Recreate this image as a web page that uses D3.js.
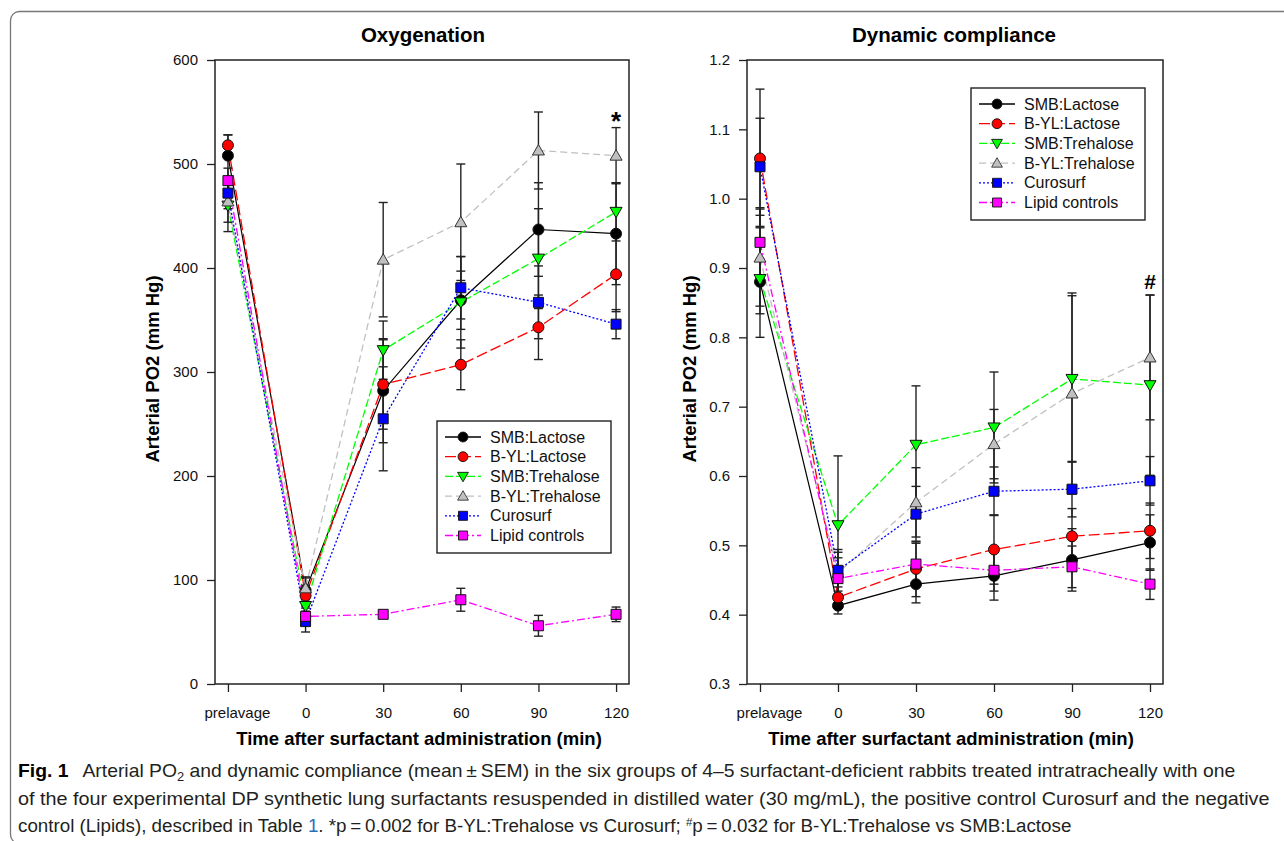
<!DOCTYPE html>
<html>
<head>
<meta charset="utf-8">
<script src="https://cdn.jsdelivr.net/npm/d3@7"></script>
<style>
  body { margin: 0; background: #fff; }
  svg text { font-family: "Liberation Sans", Arial, sans-serif; }
</style>
</head>
<body>
<script>
// Groups and time points
const groups = ["SMB:Lactose", "B-YL:Lactose", "SMB:Trehalose", "B-YL:Trehalose", "Curosurf", "Lipid controls"];
const timeLabels = ["prelavage", "0", "30", "60", "90", "120"];
const timeValues = [-30, 0, 30, 60, 90, 120];

// Oxygenation (PO2, mm Hg), means
const po2SmbLactose   = [508, 90, 282, 369, 437, 433];
const po2BylLactose   = [518, 85, 288, 307, 343, 394];
const po2SmbTrehalose = [460, 75, 321, 367, 409, 454];
const po2BylTrehalose = [464, 92, 408, 444, 513, 508];
const po2Curosurf     = [472, 60, 255, 381, 367, 346];
const po2Lipid        = [484, 65, 67, 81, 56, 67];
// Oxygenation SEM
const po2SemSmbLactose   = [20, 12, 50, 28, 45, 49];
const po2SemBylLactose   = [10, 10, 43, 24, 31, 36];
const po2SemSmbTrehalose = [25, 15, 28, 44, 48, 28];
const po2SemBylTrehalose = [20, 11, 55, 56, 37, 27];
const po2SemCurosurf     = [15, 10, 50, 30, 35, 14];
const po2SemLipid        = [12, 8, 3, 11, 10, 7];

// Dynamic compliance, means
const cmpSmbLactose   = [0.880, 0.413, 0.444, 0.456, 0.479, 0.504];
const cmpBylLactose   = [1.058, 0.425, 0.466, 0.494, 0.513, 0.521];
const cmpSmbTrehalose = [0.884, 0.529, 0.645, 0.670, 0.740, 0.731];
const cmpBylTrehalose = [0.915, 0.460, 0.562, 0.646, 0.719, 0.771];
const cmpCurosurf     = [1.046, 0.464, 0.545, 0.578, 0.581, 0.593];
const cmpLipid        = [0.937, 0.452, 0.473, 0.464, 0.469, 0.444];
// Dynamic compliance SEM
const cmpSemSmbLactose   = [0.08, 0.012, 0.027, 0.035, 0.045, 0.04];
const cmpSemBylLactose   = [0.10, 0.015, 0.04, 0.05, 0.04, 0.04];
const cmpSemSmbTrehalose = [0.05, 0.10, 0.085, 0.08, 0.12, 0.13];
const cmpSemBylTrehalose = [0.07, 0.03, 0.05, 0.05, 0.145, 0.09];
const cmpSemCurosurf     = [0.07, 0.03, 0.04, 0.035, 0.04, 0.035];
const cmpSemLipid        = [0.05, 0.03, 0.03, 0.03, 0.03, 0.022];

const yTicksPo2 = [0, 100, 200, 300, 400, 500, 600];
const yTicksCmp = [0.3, 0.4, 0.5, 0.6, 0.7, 0.8, 0.9, 1.0, 1.1, 1.2];

// Styles per group
const colors  = ["#000000", "#ff0000", "#00ff00", "#c0c0c0", "#0000ff", "#ff00ff"];
const dashes  = [null, "11,4", "8,3", "7,4", "2,2", "8,3,2,3"];
const markers = ["circle", "circle", "triDown", "triUp", "square", "square"];

const svg = d3.select("body").append("svg")
    .attr("width", 1284)
    .attr("height", 841);

// Outer rounded frame
svg.append("rect")
    .attr("x", 10.5).attr("y", 11.5)
    .attr("width", 1300).attr("height", 832)
    .attr("rx", 9)
    .attr("fill", "none")
    .attr("stroke", "#777")
    .attr("stroke-width", 1.3);

function markerPath(type) {
    if (type === "circle") return d3.symbol(d3.symbolCircle, 95)();
    if (type === "square") return "M-5,-5H5V5H-5Z";
    if (type === "triUp") return "M0,-6L6,4.5H-6Z";
    return "M0,6L6,-4.5H-6Z";
}

function drawPanel(p) {
    const x = d3.scaleLinear().domain([-35, 125]).range([p.left, p.right]);
    const y = d3.scaleLinear().domain(p.yDomain).range([p.bottom, p.top]);
    const g = svg.append("g");

    // Title
    g.append("text")
        .attr("x", p.titleX).attr("y", 42)
        .attr("text-anchor", "middle")
        .attr("font-size", 20.5).attr("font-weight", "bold")
        .text(p.title);

    // Axes
    const yAxis = g.append("g")
        .attr("transform", "translate(" + p.left + ",0)")
        .call(d3.axisLeft(y).tickValues(p.yTicks).tickSize(8).tickPadding(9).tickFormat(p.yFormat));
    yAxis.select(".domain").remove();
    yAxis.selectAll("line").attr("stroke", "#222").attr("stroke-width", 1.3);
    yAxis.selectAll("text").attr("font-size", 15).attr("fill", "#111")
        .attr("font-family", "Liberation Sans, Arial, sans-serif");

    const xAxis = g.append("g")
        .attr("transform", "translate(0," + p.bottom + ")")
        .call(d3.axisBottom(x).tickValues(timeValues).tickSize(8).tickPadding(15)
            .tickFormat((d, i) => timeLabels[i]));
    xAxis.select(".domain").remove();
    xAxis.selectAll("line").attr("stroke", "#222").attr("stroke-width", 1.3);
    xAxis.selectAll("text").attr("font-size", 15).attr("fill", "#111")
        .attr("font-family", "Liberation Sans, Arial, sans-serif")
        .attr("dx", (d, i) => i === 0 ? 9 : 0);

    // Frame
    g.append("rect")
        .attr("x", p.left).attr("y", p.top)
        .attr("width", p.right - p.left).attr("height", p.bottom - p.top)
        .attr("fill", "none").attr("stroke", "#222").attr("stroke-width", 1.5);

    // Axis titles
    g.append("text")
        .attr("transform", "translate(" + p.yTitleX + "," + ((p.top + p.bottom) / 2 - 3) + ") rotate(-90)")
        .attr("text-anchor", "middle")
        .attr("font-size", 18.5).attr("font-weight", "bold")
        .text("Arterial PO2 (mm Hg)");
    g.append("text")
        .attr("x", p.xTitleX).attr("y", 745)
        .attr("text-anchor", "middle")
        .attr("font-size", 18.5).attr("font-weight", "bold")
        .text("Time after surfactant administration (min)");

    const line = d3.line().x((d, i) => x(timeValues[i])).y(d => y(d));

    // Connecting lines
    p.series.forEach((s, k) => {
        g.append("path")
            .attr("d", line(s))
            .attr("fill", "none")
            .attr("stroke", colors[k])
            .attr("stroke-width", k === 0 ? 1.2 : 1.3)
            .attr("stroke-dasharray", dashes[k]);
    });

    // Error bars
    p.series.forEach((s, k) => {
        const eb = g.append("g").attr("stroke", "#222").attr("stroke-width", 1.4);
        s.forEach((v, i) => {
            const cx = x(timeValues[i]);
            const e = p.sems[k][i];
            eb.append("line").attr("x1", cx).attr("x2", cx).attr("y1", y(v - e)).attr("y2", y(v + e));
            [v - e, v + e].forEach(w => {
                eb.append("line").attr("x1", cx - 4.5).attr("x2", cx + 4.5).attr("y1", y(w)).attr("y2", y(w));
            });
        });
    });

    // Markers
    p.series.forEach((s, k) => {
        g.append("g").selectAll("path")
            .data(s).enter().append("path")
            .attr("d", markerPath(markers[k]))
            .attr("transform", (d, i) => "translate(" + x(timeValues[i]) + "," + y(d) + ")")
            .attr("fill", colors[k])
            .attr("stroke", k === 3 ? "#333" : "#111")
            .attr("stroke-width", 1);
    });

    // Significance mark
    g.append("text")
        .attr("x", x(120)).attr("y", p.markY)
        .attr("text-anchor", "middle")
        .attr("font-size", p.markSize).attr("font-weight", "bold")
        .text(p.mark);

    // Legend
    const lg = g.append("g").attr("transform", "translate(" + p.legX + "," + p.legY + ")");
    lg.append("rect")
        .attr("width", p.legW).attr("height", 132)
        .attr("fill", "#fff").attr("stroke", "#222").attr("stroke-width", 1.4);
    groups.forEach((name, k) => {
        const ry = 16 + k * 19.7;
        lg.append("line")
            .attr("x1", 8).attr("x2", 44).attr("y1", ry).attr("y2", ry)
            .attr("stroke", colors[k]).attr("stroke-width", 1.3)
            .attr("stroke-dasharray", dashes[k]);
        lg.append("path")
            .attr("d", markerPath(markers[k]))
            .attr("transform", "translate(26," + ry + ") scale(0.9)")
            .attr("fill", colors[k])
            .attr("stroke", k === 3 ? "#333" : "#111");
        lg.append("text")
            .attr("x", 53).attr("y", ry + 5.5)
            .attr("font-size", 16).attr("fill", "#111")
            .text(name);
    });
}

drawPanel({
    title: "Oxygenation", titleX: 423,
    left: 215, right: 629, top: 60, bottom: 684,
    yDomain: [0, 600], yTicks: yTicksPo2, yFormat: d3.format("d"),
    yTitleX: 159, xTitleX: 419,
    series: [po2SmbLactose, po2BylLactose, po2SmbTrehalose, po2BylTrehalose, po2Curosurf, po2Lipid],
    sems: [po2SemSmbLactose, po2SemBylLactose, po2SemSmbTrehalose, po2SemBylTrehalose, po2SemCurosurf, po2SemLipid],
    mark: "*", markY: 130, markSize: 26,
    legX: 437, legY: 421, legW: 174
});

drawPanel({
    title: "Dynamic compliance", titleX: 954,
    left: 747, right: 1163, top: 60, bottom: 684,
    yDomain: [0.3, 1.2], yTicks: yTicksCmp, yFormat: d3.format(".1f"),
    yTitleX: 696, xTitleX: 951,
    series: [cmpSmbLactose, cmpBylLactose, cmpSmbTrehalose, cmpBylTrehalose, cmpCurosurf, cmpLipid],
    sems: [cmpSemSmbLactose, cmpSemBylLactose, cmpSemSmbTrehalose, cmpSemBylTrehalose, cmpSemCurosurf, cmpSemLipid],
    mark: "#", markY: 289, markSize: 21,
    legX: 971, legY: 88, legW: 174
});

// Caption
const cap = svg.append("g")
    .attr("font-family", "'Liberation Sans Narrow', 'DejaVu Sans Condensed', 'Liberation Sans', sans-serif")
    .attr("font-size", 18)
    .attr("fill", "#231f20");

const capLines = [
    {y: 777, end: 1236},
    {y: 805, end: 1271},
    {y: 832, end: 1072}
];

const t1 = cap.append("text").attr("x", 18).attr("y", capLines[0].y);
t1.append("tspan").attr("font-weight", "bold").attr("fill", "#000").text("Fig. 1");
t1.append("tspan").text("\u2002 Arterial PO");
t1.append("tspan").attr("font-size", 12).attr("dy", 4).text("2");
t1.append("tspan").attr("dy", -4).text(" and dynamic compliance (mean\u2009\u00b1\u2009SEM) in the six groups of 4\u20135 surfactant-deficient rabbits treated intratracheally with one");

const t2 = cap.append("text").attr("x", 18).attr("y", capLines[1].y)
    .text("of the four experimental DP synthetic lung surfactants resuspended in distilled water (30 mg/mL), the positive control Curosurf and the negative");

const t3 = cap.append("text").attr("x", 18).attr("y", capLines[2].y);
t3.append("tspan").text("control (Lipids), described in Table ");
t3.append("tspan").attr("fill", "#2a6ebb").text("1");
t3.append("tspan").text(". *p\u2009=\u20090.002 for B-YL:Trehalose vs Curosurf; ");
t3.append("tspan").attr("font-size", 11).attr("dy", -6).text("#");
t3.append("tspan").attr("dy", 6).text("p\u2009=\u20090.032 for B-YL:Trehalose vs SMB:Lactose");

[t1, t2, t3].forEach((t, i) => {
    const w = t.node().getComputedTextLength();
    const k = (capLines[i].end - 18) / w;
    t.attr("x", 0).attr("transform", "translate(18,0) scale(" + k + ",1)");
});
</script>
</body>
</html>
